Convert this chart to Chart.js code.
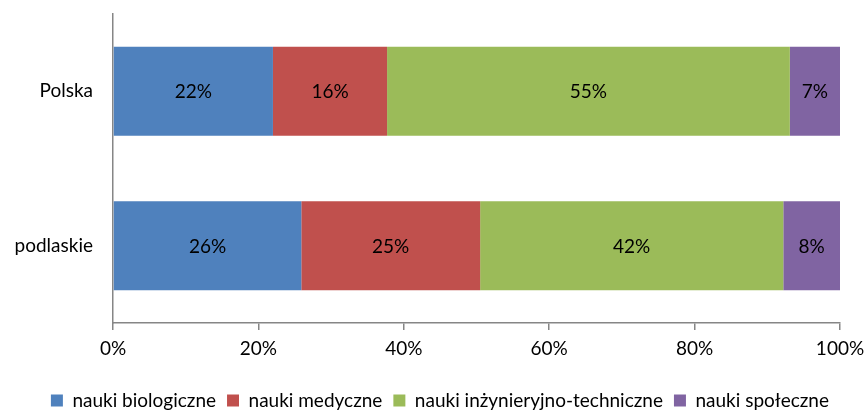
<!DOCTYPE html>
<html>
<head>
<meta charset="utf-8">
<script src="https://cdn.jsdelivr.net/npm/chart.js@4/dist/chart.umd.min.js"></script>
<style>
    html, body { margin: 0; padding: 0; background: #fff; }
    #wrap { width: 865px; height: 411px; }
</style>
</head>
<body>
<div id="wrap"><canvas id="chart" width="865" height="411"></canvas></div>
<script>
// Regions and fields
const regions = ['Polska', 'podlaskie'];
const fields = ['nauki biologiczne', 'nauki medyczne', 'nauki inżynieryjno-techniczne', 'nauki społeczne'];

// Share of each field in %, per region
const biological = [22.0, 25.9];
const medical = [15.7, 24.6];
const engineering = [55.4, 41.7];
const social = [6.9, 7.8];

const xTicks = [0, 20, 40, 60, 80, 100];
const colors = ['#4F81BD', '#C0504D', '#9BBB59', '#8064A2'];

const FONT = 'Lato, "Open Sans", sans-serif';

// Draw the percentage in the middle of each bar segment
const segmentLabels = {
    id: 'segmentLabels',
    afterDatasetsDraw(chart) {
        const ctx = chart.ctx;
        ctx.save();
        ctx.font = '19px ' + FONT;
        ctx.fillStyle = '#000';
        ctx.textAlign = 'center';
        ctx.textBaseline = 'middle';
        chart.data.datasets.forEach((ds, i) => {
            chart.getDatasetMeta(i).data.forEach((bar, j) => {
                const x = (bar.x + bar.base) / 2;
                ctx.fillText(Math.round(ds.data[j]) + '%', x, bar.y + 1);
            });
        });
        ctx.restore();
    }
};

// Keep the legend strip short so it sits near the bottom edge
const legendHeight = {
    id: 'legendHeight',
    beforeInit(chart) {
        const fit = chart.legend.fit;
        chart.legend.fit = function () {
            fit.call(this);
            this.height = 31;
        };
    }
};

const seriesValues = [biological, medical, engineering, social];

new Chart(document.getElementById('chart'), {
    type: 'bar',
    data: {
        labels: regions,
        datasets: fields.map((name, i) => ({
            label: name,
            data: seriesValues[i],
            backgroundColor: colors[i],
            borderWidth: 0,
            barPercentage: 0.576,
            categoryPercentage: 1
        }))
    },
    options: {
        indexAxis: 'y',
        responsive: false,
        animation: false,
        layout: { padding: { top: 14, right: 25, left: 0, bottom: 0 } },
        scales: {
            x: {
                stacked: true,
                min: 0,
                max: 100,
                afterBuildTicks: axis => { axis.ticks = xTicks.map(v => ({ value: v })); },
                afterFit: axis => {
                    axis.height = 57;
                    axis.paddingLeft = 0;
                    axis.paddingRight = 0;
                },
                grid: { drawOnChartArea: false, drawTicks: true, tickLength: 7, color: '#868686', lineWidth: 1.5 },
                border: { color: '#868686', width: 1.5 },
                ticks: {
                    callback: v => v + '%',
                    color: '#000',
                    font: { family: FONT, size: 19 },
                    padding: 7
                }
            },
            y: {
                stacked: true,
                afterFit: axis => {
                    axis.width = 113;
                    axis.paddingTop = 0;
                    axis.paddingBottom = 0;
                },
                grid: { display: true, drawOnChartArea: false, drawTicks: false },
                border: { color: '#868686', width: 1.5 },
                ticks: {
                    color: '#000',
                    font: { family: FONT, size: 19 },
                    padding: 20
                }
            }
        },
        plugins: {
            legend: {
                position: 'bottom',
                align: 'end',
                labels: {
                    color: '#000',
                    font: { family: FONT, size: 19 },
                    boxWidth: 12,
                    boxHeight: 12,
                    padding: 11
                }
            },
            tooltip: { enabled: false }
        }
    },
    plugins: [segmentLabels, legendHeight]
});
</script>
</body>
</html>
